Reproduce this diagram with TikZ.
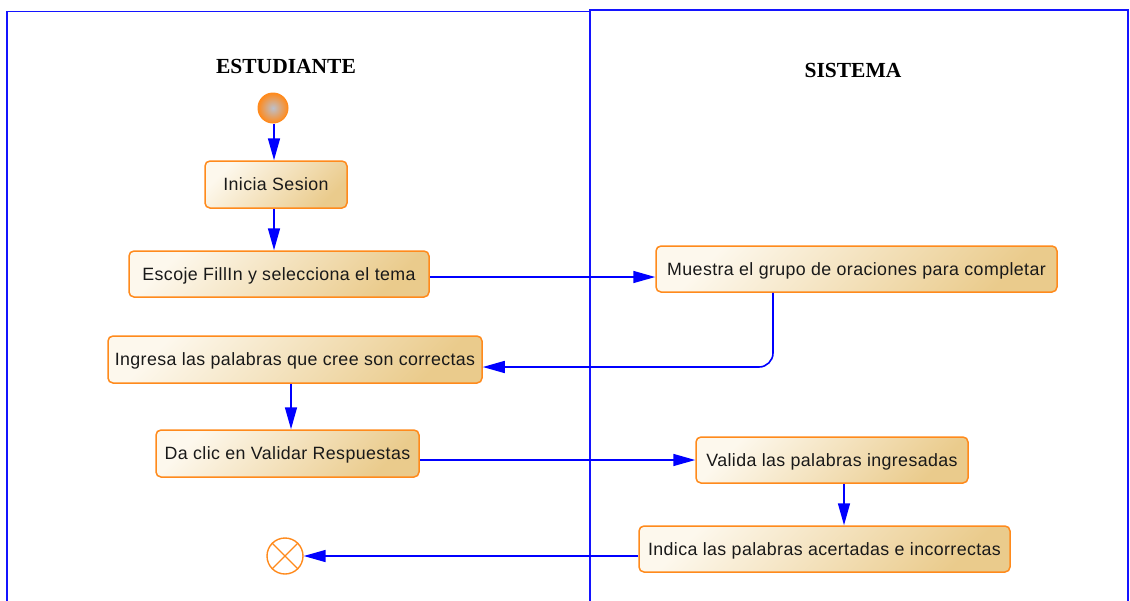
\documentclass[tikz,border=0pt]{standalone}
\usepackage{fontspec}
\setmainfont{Liberation Serif}
\newfontfamily\boxfont[LetterSpace=2.2]{Liberation Sans}
\usetikzlibrary{arrows.meta}
\definecolor{laneblue}{RGB}{20,20,255}
\definecolor{flowblue}{RGB}{0,0,255}
\definecolor{boxorange}{RGB}{255,138,28}
\definecolor{creamc}{RGB}{253,248,237}
\definecolor{tanc}{RGB}{234,203,140}
\definecolor{txtc}{RGB}{25,25,25}
\definecolor{startin}{RGB}{188,192,204}
\tikzset{
  lane/.style={draw=laneblue, line width=1.4pt},
  lanetitle/.style={font=\fontsize{21.5}{24}\selectfont\bfseries, text=black, inner sep=0pt},
  act/.style={draw=boxorange, line width=1.5pt, rounded corners=5pt,
    top color=creamc, bottom color=tanc, shading angle=45,
    font=\boxfont\fontsize{17.8}{20}\selectfont, text=txtc, text depth=0pt,
    minimum height=46pt, inner sep=0pt, anchor=center},
  flow/.style={draw=flowblue, line width=1.6pt, -{Triangle[length=22pt,width=12pt]}},
  startnode/.style={circle, draw=boxorange, line width=1pt, inner color=startin, outer color=boxorange, minimum size=30pt, inner sep=0pt},
  endnode/.style={circle, draw=boxorange, line width=1.4pt, fill=white, minimum size=36pt, inner sep=0pt}
}
\begin{document}
\begin{tikzpicture}[x=1pt,y=-1pt]
\useasboundingbox (0,0) rectangle (1130,600);
% swimlanes
\draw[lane] (7,640) -- (7,11.5) -- (590,11.5);
\draw[lane] (590,640) -- (590,10) -- (1128,10) -- (1128,640);
\node[lanetitle] (t1) at (286,66) {ESTUDIANTE};
\node[lanetitle] (t2) at (853,70) {SISTEMA};
% nodes
\node[startnode] (ini) at (273,108) {};
\node[act, minimum width=142pt, minimum height=47pt] (a1) at (276,184.5) {Inicia Sesion};
\node[act, minimum width=300pt] (a2) at (279,274) {Escoje FillIn y selecciona el tema};
\node[act, minimum width=401pt] (a3) at (856.5,269) {Muestra el grupo de oraciones para completar};
\node[act, minimum width=374pt, minimum height=47pt] (a4) at (295,359.5) {Ingresa las palabras que cree son correctas};
\node[act, minimum width=263pt, minimum height=47pt] (a5) at (287.5,453.5) {Da clic en Validar Respuestas};
\node[act, minimum width=272pt] (a6) at (832,460) {Valida las palabras ingresadas};
\node[act, minimum width=371pt] (a7) at (824.5,549) {Indica las palabras acertadas e incorrectas};
\node[endnode] (fin) at (285,556) {};
\draw[boxorange, line width=1.3pt] (fin.45) -- (fin.225) (fin.135) -- (fin.315);
% connectors
\coordinate (c1) at (274,0);
\coordinate (c3) at (773,367);
\coordinate (c4) at (291,0);
\coordinate (c6) at (844,0);
\draw[flow] (ini.south -| c1) -- (a1.north -| c1);
\draw[flow] (a1.south -| c1) -- (a2.north -| c1);
\draw[flow] ([yshift=-3pt]a2.east) -- ([yshift=-3pt]a2.east -| a3.west);
\draw[flow, rounded corners=14pt] (a3.south -| c3) -- (c3) -- (c3 -| a4.east);
\draw[flow] (a4.south -| c4) -- (a5.north -| c4);
\draw[flow] (a6.west -| a5.east) -- (a6.west);
\draw[flow] (a6.south -| c6) -- (a7.north -| c6);
\draw[flow] (fin -| a7.west) -- (fin.east);
\end{tikzpicture}
\end{document}
